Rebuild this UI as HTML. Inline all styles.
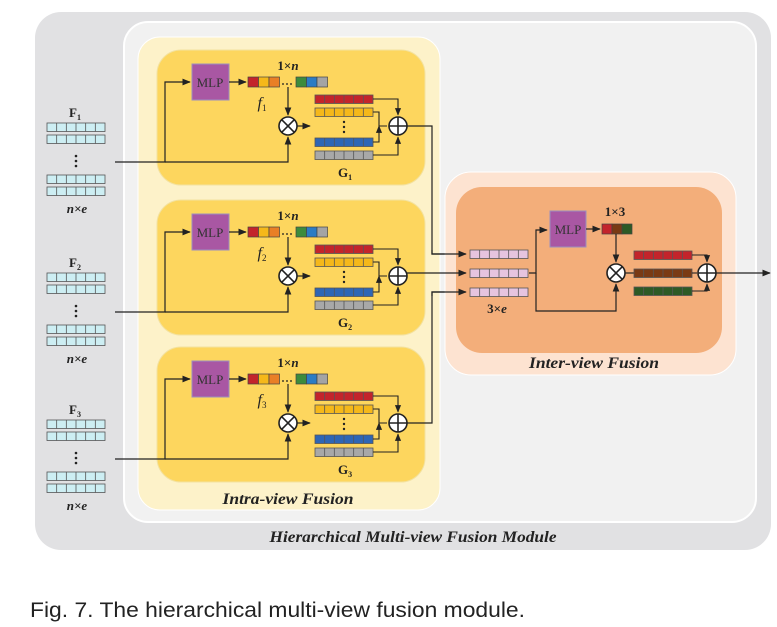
<!DOCTYPE html>
<html><head><meta charset="utf-8"><style>
body{margin:0;background:#fff;width:777px;height:627px;overflow:hidden}
svg{position:absolute;left:0;top:0}
.t{font-family:"Liberation Serif",serif;fill:#222}
</style></head><body>
<svg width="777" height="627" viewBox="0 0 777 627" xmlns="http://www.w3.org/2000/svg">
<defs>
<marker id="a" viewBox="0 0 10 10" refX="9" refY="5" markerWidth="7" markerHeight="7" orient="auto"><path d="M0,1 L10,5 L0,9z" fill="#222"/></marker>
<g id="g6" fill="none" stroke="#555" stroke-width="0.8">
<rect x="0" y="0" width="58" height="8.5"/>
<path d="M9.67,0v8.5M19.33,0v8.5M29,0v8.5M38.67,0v8.5M48.33,0v8.5"/>
</g>
<g id="frow"><rect width="58" height="8.5" fill="#cdeef3"/><use href="#g6"/></g>
<g id="prow"><rect width="58" height="8.5" fill="#e6c4df"/><use href="#g6"/></g>
<g id="otimes"><circle r="9" fill="#fff" stroke="#222" stroke-width="1.6"/><path d="M-6.3,-6.3L6.3,6.3M6.3,-6.3L-6.3,6.3" stroke="#222" stroke-width="1.6"/></g>
<g id="oplus"><circle r="9" fill="#fff" stroke="#222" stroke-width="1.6"/><path d="M-9,0H9M0,-9V9" stroke="#222" stroke-width="1.6"/></g>
<g id="F">
<use href="#frow" x="47" y="123"/><use href="#frow" x="47" y="135"/>
<circle cx="76" cy="156" r="1.3" fill="#222"/><circle cx="76" cy="161" r="1.3" fill="#222"/><circle cx="76" cy="166" r="1.3" fill="#222"/>
<use href="#frow" x="47" y="175"/><use href="#frow" x="47" y="187"/>
</g>
<g id="grp">
<rect x="157" y="50" width="268" height="135" rx="24" fill="#fdd65e" stroke="#f3e2a0"/>
<rect x="192" y="64" width="37" height="36" fill="#a957a3" stroke="#9a8fbf"/>
<path d="M115,162H165V82H190" fill="none" stroke="#222" stroke-width="1.2" marker-end="url(#a)"/>
<path d="M165,162H288V137" fill="none" stroke="#222" stroke-width="1.2" marker-end="url(#a)"/>
<path d="M229,82H246" stroke="#222" stroke-width="1.2" marker-end="url(#a)"/>
<rect x="248" y="77" width="10.5" height="10" fill="#c3242b" stroke="#444" stroke-width=".7"/>
<rect x="258.5" y="77" width="10.5" height="10" fill="#f5b81a" stroke="#444" stroke-width=".7"/>
<rect x="269" y="77" width="10.5" height="10" fill="#e97f26" stroke="#444" stroke-width=".7"/>
<rect x="296" y="77" width="10.5" height="10" fill="#3d8b3c" stroke="#444" stroke-width=".7"/>
<rect x="306.5" y="77" width="10.5" height="10" fill="#2c7cc4" stroke="#444" stroke-width=".7"/>
<rect x="317" y="77" width="10.5" height="10" fill="#a4a4a4" stroke="#444" stroke-width=".7"/>
<path d="M282,84h2M286,84h2M290,84h2" stroke="#222" stroke-width="1.3"/>
<path d="M288,87V115" stroke="#222" stroke-width="1.2" marker-end="url(#a)"/>
<use href="#otimes" x="288" y="126"/>
<path d="M297,126H310" stroke="#222" stroke-width="1.2" marker-end="url(#a)"/>
<rect x="315" y="95" width="58" height="8.5" fill="#c3242b"/><use href="#g6" x="315" y="95"/>
<rect x="315" y="108" width="58" height="8.5" fill="#f5b81a"/><use href="#g6" x="315" y="108"/>
<circle cx="344" cy="122" r="1.2" fill="#222"/><circle cx="344" cy="127" r="1.2" fill="#222"/><circle cx="344" cy="132" r="1.2" fill="#222"/>
<rect x="315" y="138" width="58" height="8.5" fill="#2e66b5"/><use href="#g6" x="315" y="138"/>
<rect x="315" y="151" width="58" height="8.5" fill="#a8a8a8"/><use href="#g6" x="315" y="151"/>
<path d="M373,99H398V115" fill="none" stroke="#222" stroke-width="1.1" marker-end="url(#a)"/>
<path d="M373,112H379V126H387M373,142H379V126" fill="none" stroke="#222" stroke-width="1.1" marker-end="url(#a)"/>
<path d="M373,155H398V137" fill="none" stroke="#222" stroke-width="1.1" marker-end="url(#a)"/>
<use href="#oplus" x="398" y="126"/>
<use href="#F"/>
</g>
</defs>
<rect x="35" y="12" width="736" height="538" rx="26" fill="#e1e1e3"/>
<rect x="124" y="22" width="632" height="500" rx="24" fill="#f1f1f1" stroke="#fff" stroke-width="2"/>
<rect x="138" y="37" width="302" height="473" rx="22" fill="#fdf2c9" stroke="#fff"/>
<use href="#grp"/>
<use href="#grp" y="150"/>
<use href="#grp" y="297"/>
<path d="M407,126H432V254H466" fill="none" stroke="#222" stroke-width="1.2" marker-end="url(#a)"/>
<path d="M407,423H432V292H466" fill="none" stroke="#222" stroke-width="1.2" marker-end="url(#a)"/>
<rect x="445" y="172" width="291" height="203" rx="26" fill="#fde3d1" stroke="#fff"/>
<rect x="456" y="187" width="266" height="166" rx="26" fill="#f3ae7a"/>
<path d="M407,273H466" fill="none" stroke="#222" stroke-width="1.2" marker-end="url(#a)"/>
<path d="M432,250V254H466" fill="none" stroke="#222" stroke-width="1.2" marker-end="url(#a)"/>
<path d="M432,296V292H466" fill="none" stroke="#222" stroke-width="1.2" marker-end="url(#a)"/>
<use href="#prow" x="470" y="250"/><use href="#prow" x="470" y="269"/><use href="#prow" x="470" y="288"/>
<path d="M529,273H536V230H547" fill="none" stroke="#222" stroke-width="1.2" marker-end="url(#a)"/>
<path d="M536,273V311H616V284" fill="none" stroke="#222" stroke-width="1.2" marker-end="url(#a)"/>
<rect x="550" y="211" width="36" height="36" fill="#a957a3" stroke="#9a8fbf"/>
<path d="M586,229H600" stroke="#222" stroke-width="1.2" marker-end="url(#a)"/>
<rect x="602" y="224" width="10" height="10" fill="#c3242b" stroke="#444" stroke-width=".7"/>
<rect x="612" y="224" width="10" height="10" fill="#7a3a14" stroke="#444" stroke-width=".7"/>
<rect x="622" y="224" width="10" height="10" fill="#2d5a25" stroke="#444" stroke-width=".7"/>
<path d="M616,234V262" stroke="#222" stroke-width="1.2" marker-end="url(#a)"/>
<use href="#otimes" x="616" y="273"/>
<path d="M625,273H634" stroke="#222" stroke-width="1.2"/>
<rect x="634" y="251" width="58" height="8.5" fill="#c3242b"/><use href="#g6" x="634" y="251"/>
<rect x="634" y="269" width="58" height="8.5" fill="#7a3a14"/><use href="#g6" x="634" y="269"/>
<rect x="634" y="287" width="58" height="8.5" fill="#2d5a25"/><use href="#g6" x="634" y="287"/>
<path d="M692,255H707V262" fill="none" stroke="#222" stroke-width="1.1" marker-end="url(#a)"/>
<path d="M692,273H697" stroke="#222" stroke-width="1.1"/>
<path d="M692,291H707V284" fill="none" stroke="#222" stroke-width="1.1" marker-end="url(#a)"/>
<use href="#oplus" x="707" y="273"/>
<path d="M716,273H770" stroke="#222" stroke-width="1.2" marker-end="url(#a)"/>
<g class="t" font-size="13">
<text x="210" y="87" text-anchor="middle" fill="#333">MLP</text>
<text x="210" y="237" text-anchor="middle" fill="#333">MLP</text>
<text x="210" y="384" text-anchor="middle" fill="#333">MLP</text>
<text x="568" y="234" text-anchor="middle" fill="#333">MLP</text>
</g>
<g class="t" font-size="13" font-weight="bold" text-anchor="middle">
<text x="288" y="70">1×<tspan font-style="italic">n</tspan></text>
<text x="288" y="220">1×<tspan font-style="italic">n</tspan></text>
<text x="288" y="367">1×<tspan font-style="italic">n</tspan></text>
<text x="615" y="216">1×3</text>
<text x="497" y="313">3×<tspan font-style="italic">e</tspan></text>
<text x="345" y="177">G<tspan font-size="8" dy="3">1</tspan></text>
<text x="345" y="327">G<tspan font-size="8" dy="3">2</tspan></text>
<text x="345" y="474">G<tspan font-size="8" dy="3">3</tspan></text>
<text x="75" y="117">F<tspan font-size="8" dy="3">1</tspan></text>
<text x="75" y="267">F<tspan font-size="8" dy="3">2</tspan></text>
<text x="75" y="414">F<tspan font-size="8" dy="3">3</tspan></text>
<text x="77" y="213" font-style="italic">n×e</text>
<text x="77" y="363" font-style="italic">n×e</text>
<text x="77" y="510" font-style="italic">n×e</text>
</g>
<g class="t" font-size="16" font-style="italic" text-anchor="middle">
<text x="262" y="108">f<tspan font-size="9" font-style="normal" dy="3">1</tspan></text>
<text x="262" y="258">f<tspan font-size="9" font-style="normal" dy="3">2</tspan></text>
<text x="262" y="405">f<tspan font-size="9" font-style="normal" dy="3">3</tspan></text>
</g>
<g class="t" font-size="16" font-weight="bold" font-style="italic" text-anchor="middle">
<text x="288" y="504" textLength="131" lengthAdjust="spacingAndGlyphs">Intra-view Fusion</text>
<text x="594" y="368" textLength="130" lengthAdjust="spacingAndGlyphs">Inter-view Fusion</text>
<text x="413" y="542" textLength="287" lengthAdjust="spacingAndGlyphs">Hierarchical Multi-view Fusion Module</text>
</g>
<text x="30" y="617" font-family="Liberation Sans,sans-serif" font-size="21" fill="#222" textLength="495" lengthAdjust="spacingAndGlyphs">Fig. 7. The hierarchical multi-view fusion module.</text>
</svg>
</body></html>
